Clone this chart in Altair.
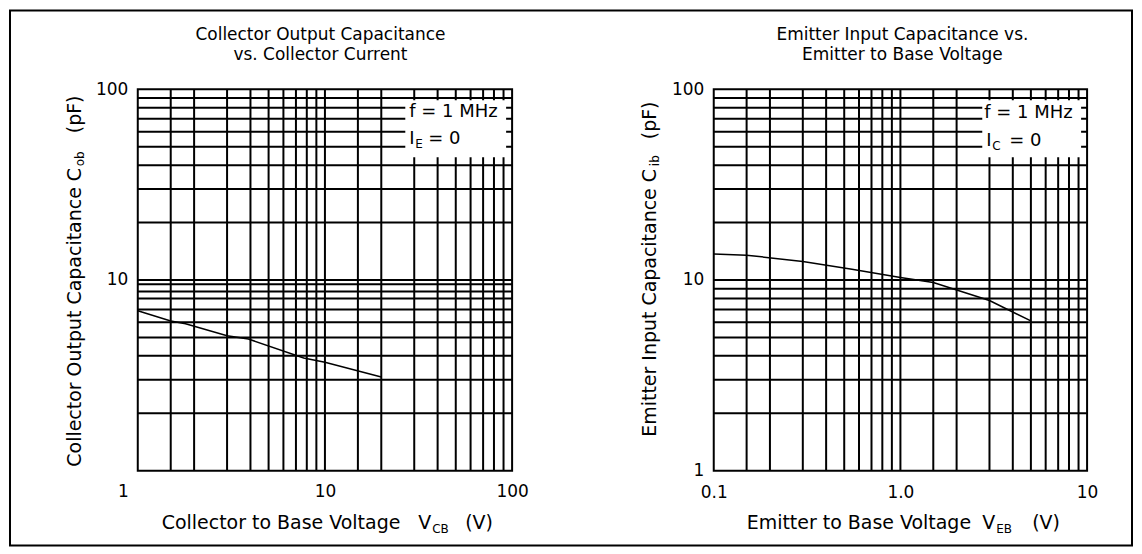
import altair as alt
import pandas as pd

# ---------------- data ----------------
left_vcb = [1.0, 1.5, 1.8, 3.0, 3.9, 7.7, 10.0, 20.0]
left_cob = [6.9, 6.1, 5.9, 5.1, 4.9, 3.9, 3.7, 3.1]

right_veb = [0.1, 0.15, 0.3, 0.55, 1.0, 1.5, 3.0, 5.0]
right_cib = [13.7, 13.5, 12.5, 11.4, 10.3, 9.7, 7.8, 6.1]

left_x_grid = [1.5, 2, 3, 4, 5, 6, 7, 8, 9, 10, 15, 20, 30, 40, 50, 60, 70, 80, 90]
left_y_grid = [2, 3, 4, 5, 6, 7, 8, 8.7, 9.5, 10, 20, 30, 40, 50, 60, 70, 80, 90]
right_x_grid = [0.15, 0.2, 0.3, 0.4, 0.5, 0.6, 0.7, 0.8, 0.9, 1.0,
                1.5, 2, 3, 4, 5, 6, 7, 8, 9]
right_y_grid = [2, 3, 4, 5, 6, 7, 8, 9, 10, 20, 30, 40, 50, 60, 70, 80, 90]

left_x_ticks = [1, 10, 100]
left_y_ticks = [10, 100]
right_x_ticks = [0.1, 1, 10]
right_x_tick_labels = ["0.1", "1.0", "10"]
right_y_ticks = [1, 10, 100]

left_title = ["Collector Output Capacitance", "vs. Collector Current"]
right_title = ["Emitter Input Capacitance vs.", "Emitter to Base Voltage"]

FONT = "DejaVu Sans"
W1, W2, H = 375, 374, 382
one = pd.DataFrame({"a": [0]})


def txt(s, x, y, size=19, align="left", angle=0):
    return alt.Chart(one).mark_text(
        text=s, font=FONT, fontSize=size, align=align, baseline="middle",
        angle=angle, color="black"
    ).encode(x=alt.value(x), y=alt.value(y))


def grid_layers(xg, yg, xs, ys, xax, yax):
    v = alt.Chart(pd.DataFrame({"v": xg})).mark_rule(color="black", strokeWidth=2).encode(
        x=alt.X("v:Q", scale=xs, title=None, axis=xax))
    h = alt.Chart(pd.DataFrame({"h": yg})).mark_rule(color="black", strokeWidth=2).encode(
        y=alt.Y("h:Q", scale=ys, title=None, axis=yax))
    return v, h


def white_box(x, x2, y, y2):
    return alt.Chart(one).mark_rect(fill="white").encode(
        x=alt.value(x), x2=alt.value(x2), y=alt.value(y), y2=alt.value(y2))


# ---------------- left panel ----------------
xs_l = alt.Scale(type="log", domain=[1, 100], nice=False)
ys_l = alt.Scale(type="log", domain=[1, 100], nice=False)
xax_l = alt.Axis(values=left_x_ticks, title=None, labelPadding=13,
                 labelOffset={"condition": {"test": "datum.value == 1", "value": -15},
                              "value": 0})
yax_l = alt.Axis(values=left_y_ticks, title=None)
vl, hl = grid_layers(left_x_grid, left_y_grid, xs_l, ys_l, xax_l, yax_l)

curve_l = alt.Chart(pd.DataFrame({"v": left_vcb, "h": left_cob})).mark_line(
    color="black", strokeWidth=1.5
).encode(
    x=alt.X("v:Q", scale=xs_l, title=None, axis=xax_l),
    y=alt.Y("h:Q", scale=ys_l, title=None, axis=yax_l),
)

border = alt.Chart(one).mark_rect(fillOpacity=0, stroke="black", strokeWidth=2).encode(
    x=alt.value(-128), x2=alt.value(996), y=alt.value(-79), y2=alt.value(457))

left = alt.layer(
    vl, hl, border, white_box(268, 369, 11, 68), curve_l,
    txt(left_title[0], 183, -54, size=17, align="center"),
    txt(left_title[1], 183, -34, size=17, align="center"),
    txt("f = 1 MHz", 272, 23, size=18),
    txt("I", 272, 50, size=18), txt("E", 278, 55, size=12), txt("= 0", 291, 50, size=18),
    txt("Collector to Base Voltage", 24, 434), txt("V", 281, 434),
    txt("CB", 295, 440, size=12), txt("(V)", 328, 434),
    txt("Collector Output Capacitance  C", -63, 378, angle=270),
    txt("ob", -58, 77, size=12, angle=270),
    txt("(pF)", -63, 44, angle=270),
).properties(width=W1, height=H)

# ---------------- right panel ----------------
xs_r = alt.Scale(type="log", domain=[0.1, 10], nice=False)
ys_r = alt.Scale(type="log", domain=[1, 100], nice=False)

label_expr = ("datum.value < 0.5 ? '%s' : (datum.value < 5 ? '%s' : '%s')"
              % tuple(right_x_tick_labels))
xax_r = alt.Axis(values=right_x_ticks, labelExpr=label_expr, title=None, labelPadding=14)
yax_r = alt.Axis(values=right_y_ticks, title=None)
vr, hr = grid_layers(right_x_grid, right_y_grid, xs_r, ys_r, xax_r, yax_r)

curve_r = alt.Chart(pd.DataFrame({"v": right_veb, "h": right_cib})).mark_line(
    color="black", strokeWidth=1.5
).encode(
    x=alt.X("v:Q", scale=xs_r, title=None, axis=xax_r),
    y=alt.Y("h:Q", scale=ys_r, title=None, axis=yax_r),
)

right = alt.layer(
    vr, hr, white_box(269, 368, 11, 68), curve_r,
    txt(right_title[0], 189, -54, size=17, align="center"),
    txt(right_title[1], 189, -34, size=17, align="center"),
    txt("f = 1 MHz", 271, 24, size=18),
    txt("I", 273, 52, size=18), txt("C", 279, 57, size=12), txt("= 0", 296, 52, size=18),
    txt("Emitter to Base Voltage", 33, 434), txt("V", 269, 434),
    txt("EB", 283, 440, size=12), txt("(V)", 319, 434),
    txt("Emitter Input Capacitance  C", -64, 348, angle=270),
    txt("ib", -59, 77, size=12, angle=270),
    txt("(pF)", -64, 50, angle=270),
).properties(width=W2, height=H)

chart = alt.hconcat(left, right, spacing=202, bounds="flush").properties(
    padding=0, background="white"
).configure_view(
    stroke="black", strokeWidth=2
).configure_axis(
    domain=False, ticks=False, grid=False, labelFont=FONT, labelFontSize=17,
    labelColor="black", labelPadding=10, labelFlush=False, labelOverlap=False
)

chart.save("out.html", embed_options={"renderer": "svg", "actions": False})
